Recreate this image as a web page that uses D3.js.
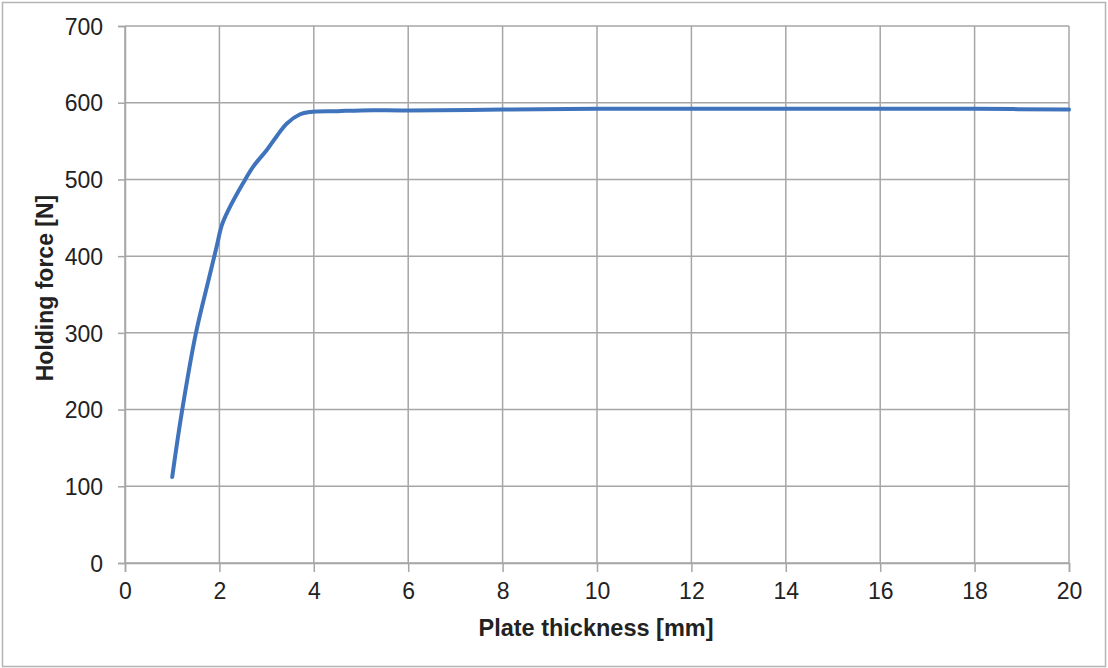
<!DOCTYPE html>
<html>
<head>
<meta charset="utf-8">
<script src="https://cdn.jsdelivr.net/npm/d3@7"></script>
<style>
  body { margin: 0; background: #fff; }
  svg text { font-family: "Liberation Sans", Arial, sans-serif; fill: #222; }
</style>
</head>
<body>
<svg id="chart" width="1108" height="668"></svg>
<script>
const width = 1108;
const height = 668;

// plate thickness [mm] and holding force [N]
const thickness = [1.0, 1.2, 1.5, 1.77, 1.94, 2.05, 2.19, 2.5, 2.72, 3.0, 3.21, 3.43, 3.71, 3.92, 4.5, 5, 6, 8, 10, 12, 14, 16, 18, 20];
const force = [112, 195, 299, 369, 412, 440, 460, 495, 517, 538, 556, 573, 585, 588, 589, 590, 590, 591, 592, 592, 592, 592, 592, 591];

const xTicks = [0, 2, 4, 6, 8, 10, 12, 14, 16, 18, 20];
const yTicks = [0, 100, 200, 300, 400, 500, 600, 700];

const margin = { left: 125, top: 26, right: 1069, bottom: 563 };

const svg = d3.select('#chart');

// outer frame
svg.append('rect')
    .attr('x', 2.5).attr('y', 2.5)
    .attr('width', width - 5).attr('height', height - 4)
    .attr('fill', 'none')
    .attr('stroke', '#b4b4b4')
    .attr('stroke-width', 1.5);

const x = d3.scaleLinear().domain([0, 20]).range([margin.left, margin.right]);
const y = d3.scaleLinear().domain([0, 700]).range([margin.bottom, margin.top]);

const gridColor = '#a6a6a6';

// grid
const g = svg.append('g');
g.selectAll('.vgrid')
    .data(xTicks)
    .enter()
    .append('line')
    .attr('x1', d => x(d)).attr('x2', d => x(d))
    .attr('y1', margin.top).attr('y2', margin.bottom)
    .attr('stroke', gridColor)
    .attr('stroke-width', 1.5);

g.selectAll('.hgrid')
    .data(yTicks)
    .enter()
    .append('line')
    .attr('x1', margin.left).attr('x2', margin.right)
    .attr('y1', d => y(d)).attr('y2', d => y(d))
    .attr('stroke', gridColor)
    .attr('stroke-width', 1.5);

// axes
const xAxis = svg.append('g')
    .attr('transform', `translate(0,${margin.bottom})`)
    .call(d3.axisBottom(x).tickValues(xTicks).tickSize(9).tickPadding(11));
const yAxis = svg.append('g')
    .attr('transform', `translate(${margin.left},0)`)
    .call(d3.axisLeft(y).tickValues(yTicks).tickSize(7).tickPadding(15));

[xAxis, yAxis].forEach(a => {
    a.select('.domain').attr('stroke', gridColor).attr('stroke-width', 1.5);
    a.selectAll('.tick line').attr('stroke', gridColor).attr('stroke-width', 1.5);
    a.selectAll('.tick text')
        .attr('font-size', 23)
        .style('font-family', '"Liberation Sans", Arial, sans-serif')
        .attr('fill', '#262626');
});
yAxis.selectAll('.tick text').attr('dy', '0.36em');

// curve
const points = thickness.map((t, i) => [t, force[i]]);
const line = d3.line()
    .x(d => x(d[0]))
    .y(d => y(d[1]))
    .curve(d3.curveCatmullRom.alpha(0.5));

svg.append('path')
    .datum(points)
    .attr('d', line)
    .attr('fill', 'none')
    .attr('stroke', '#3f74bd')
    .attr('stroke-width', 4)
    .attr('stroke-linecap', 'round');

// axis titles
svg.append('text')
    .attr('x', 596)
    .attr('y', 636)
    .attr('text-anchor', 'middle')
    .attr('font-size', 23.5)
    .attr('font-weight', 'bold')
    .text('Plate thickness [mm]');

svg.append('text')
    .attr('transform', `translate(53,288) rotate(-90)`)
    .attr('text-anchor', 'middle')
    .attr('font-size', 23)
    .attr('font-weight', 'bold')
    .text('Holding force [N]');
</script>
</body>
</html>
